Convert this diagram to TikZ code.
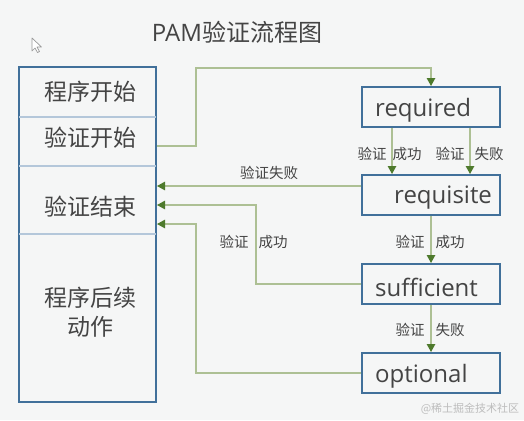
\documentclass[tikz,border=0pt]{standalone}
\usepackage{fontspec}
\setmainfont{Open Sans}
\newfontfamily\cjk{Noto Sans CJK SC}
\usetikzlibrary{arrows.meta}
\definecolor{bgc}{HTML}{F5F6F6}
\definecolor{boxc}{HTML}{41709A}
\definecolor{divc}{HTML}{B4C7DA}
\definecolor{txtc}{HTML}{444444}
\definecolor{connc}{HTML}{ADC094}
\definecolor{tipc}{HTML}{4E7A2C}
\definecolor{wmc}{HTML}{BDBDBD}
\tikzset{
  frame/.style={draw=boxc, line width=2pt, rectangle, inner sep=0pt},
  rbox/.style={frame, minimum width=138pt, minimum height=40pt},
  bigtxt/.style={inner sep=0pt, text=txtc, font=\fontsize{23}{29}\selectfont\cjk},
  engtxt/.style={inner sep=0pt, text=txtc, anchor=west, font=\fontsize{24}{28}\selectfont},
  lbl/.style={inner sep=0pt, text=txtc, font=\fontsize{14.5}{17}\selectfont\cjk},
  conn/.style={draw=connc, line width=1.2pt, -{Triangle[length=8pt,width=8.5pt,color=tipc]}},
  divider/.style={draw=divc, line width=1.5pt}
}
\begin{document}
\begin{tikzpicture}[x=1pt,y=-1pt]
\fill[bgc] (0,0) rectangle (524,420);
\useasboundingbox (0,0) rectangle (524,420);

% title
\node[inner sep=0pt, text=txtc, font=\fontsize{24}{28}\selectfont] (title) at (237,32) {PAM{\cjk 验证流程图}};

% cursor
\draw[draw=gray!80, fill=white, line width=0.7pt, line join=round]
  (32,38) -- (32,51) -- (35,48) -- (37.5,52.5) -- (39.5,51.5) -- (37,47) -- (41.5,47) -- cycle;

% left box
\node[frame, minimum width=137pt, minimum height=335pt] (L) at (87.5,234.5) {};
\draw[divider] ([xshift=1pt]L.west |- 0,117) -- ([xshift=-1pt]L.east |- 0,117);
\draw[divider] ([xshift=1pt]L.west |- 0,166) -- ([xshift=-1pt]L.east |- 0,166);
\draw[divider] ([xshift=1pt]L.west |- 0,234) -- ([xshift=-1pt]L.east |- 0,234);
\node[bigtxt] (t1) at (90,92) {程序开始};
\node[bigtxt] (t2) at (90,138) {验证开始};
\node[bigtxt] (t3) at (90,207) {验证结束};
\node[bigtxt, align=center] (t4) at (90,312) {程序后续\\动作};

% right boxes
\node[rbox] (req) at (431,107) {};
\node[rbox] (reqs) at (431,195) {};
\node[rbox] (suf) at (431,284) {};
\node[rbox] (opt) at (431,373) {};
\node[engtxt] (treq) at (375,110) {required};
\node[engtxt] (treqs) at (394,198) {requisite};
\node[engtxt] (tsuf) at (375,287) {sufficient};
\node[engtxt] (topt) at (375,376) {optional};

% connectors
\draw[conn] (L.east |- 0,146) -- (196,146) -- (196,68) -| (req.north);
\draw[conn] ([xshift=-39pt]req.south) -- ([xshift=-39pt]reqs.north);
\draw[conn] ([xshift=39pt]req.south) -- ([xshift=39pt]reqs.north);
\draw[conn] (reqs.west |- 0,186) -- (L.east |- 0,186);
\draw[conn] (suf.west) -- (256,284) -- (256,205) -- (L.east |- 0,205);
\draw[conn] (opt.west) -- (196,373) -- (196,224) -- (L.east |- 0,224);
\draw[conn] (reqs.south) -- (suf.north);
\draw[conn] (suf.south) -- (opt.north);

% labels
\node[lbl] (l1) at (372,154) {验证};
\node[lbl] (l2) at (407,154) {成功};
\node[lbl] (l3) at (450,154) {验证};
\node[lbl] (l4) at (489,154) {失败};
\node[lbl] (l5) at (269,173) {验证失败};
\node[lbl] (l6) at (234,242) {验证};
\node[lbl] (l7) at (273,242) {成功};
\node[lbl] (l8) at (410,242) {验证};
\node[lbl] (l9) at (450,242) {成功};
\node[lbl] (l10) at (410,330) {验证};
\node[lbl] (l11) at (450,330) {失败};

% watermark
\node[inner sep=0pt, text=wmc, font=\fontsize{11}{13}\selectfont\cjk] (wm) at (470,409) {@稀土掘金技术社区};
\end{tikzpicture}
\end{document}
